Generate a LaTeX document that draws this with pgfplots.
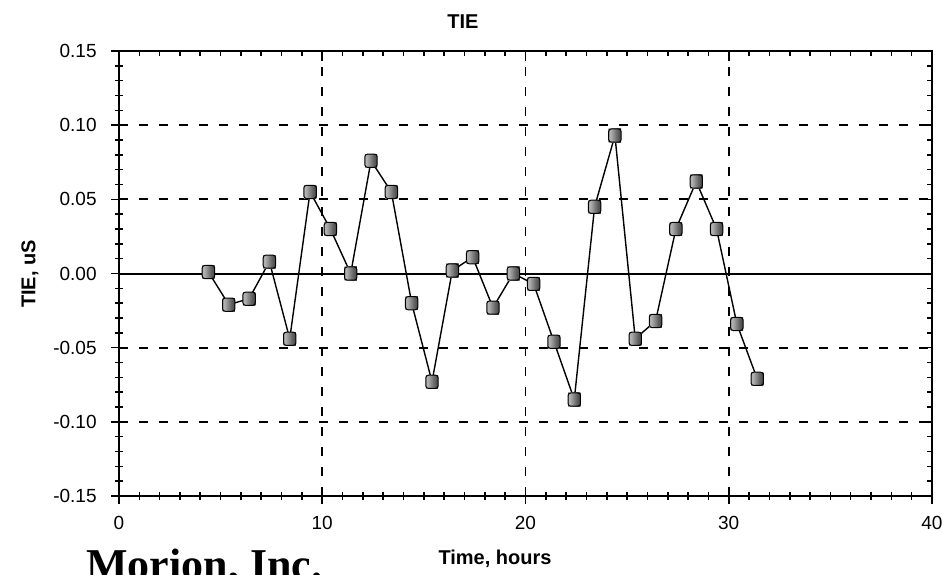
\documentclass[border=0pt]{standalone}
\usepackage{fontspec}
\setmainfont{Liberation Sans}
\newfontfamily\serifbold{Liberation Serif}
\usepackage{pgfplots}
\pgfplotsset{compat=1.18}

% shaded rounded square mark
\pgfdeclarehorizontalshading{tieshade}{100bp}{color(0bp)=(black!80); color(30bp)=(black!28); color(60bp)=(black!62); color(100bp)=(black!92)}
\pgfdeclareplotmark{tiesq}{%
  \pgfsetcornersarced{\pgfpoint{1.3pt}{1.3pt}}%
  \pgfpathrectangle{\pgfpoint{-3.1pt}{-3.3pt}}{\pgfpoint{6.2pt}{6.6pt}}%
  \pgfshadepath{tieshade}{0}%
  \pgfusepath{stroke}%
}

\pgfplotsset{
  tieaxis/.style={
    scale only axis,
    width=406.5pt, height=222.5pt,
    at={(0,0)}, anchor=south west,
    xmin=0, xmax=40, ymin=-0.15, ymax=0.15,
    xtick={0,10,20,30,40},
    ytick={-0.15,-0.10,-0.05,0,0.05,0.10,0.15},
    minor x tick num=9,
    minor y tick num=4,
    axis line style={black, line width=1pt},
    every tick/.style={black, line width=0.8pt},
  }
}

\begin{document}
\begin{tikzpicture}
\path[use as bounding box] (-59.5pt,-39pt) rectangle (411.5pt,248pt);
\clip (-59.5pt,-39pt) rectangle (411.5pt,248pt);

% ticks on top and right (inside)
\begin{axis}[tieaxis,
  xtick pos=right, ytick pos=right,
  tick align=inside,
  major tick length=5pt, minor tick length=2.6pt,
  xticklabels={}, yticklabels={},
]
\end{axis}

\begin{axis}[tieaxis,
  xtick pos=left, ytick pos=left,
  tick align=center,
  major tick length=8pt, minor tick length=3.8pt,
  grid=major,
  major grid style={black, line width=0.9pt, dash pattern=on 4.5pt off 5.5pt},
  /pgf/number format/assume math mode=true,
  tick label style={font=\fontsize{9.5}{11}\selectfont, black},
  xticklabel style={anchor=north, inner sep=0pt},
  yticklabel style={anchor=east, inner sep=0pt,
    /pgf/number format/fixed, /pgf/number format/fixed zerofill,
    /pgf/number format/precision=2},
  xticklabel shift=6pt,
  yticklabel shift=7pt,
]
\addplot[black, line width=1pt] coordinates {(0,0) (40,0)};

\addplot[black, line width=0.7pt, mark=tiesq,
  mark options={solid, draw=black, line width=0.5pt}]
coordinates {
  (4.4,0.001) (5.4,-0.021) (6.4,-0.017) (7.4,0.008) (8.4,-0.044)
  (9.4,0.055) (10.4,0.030) (11.4,0.000) (12.4,0.076) (13.4,0.055)
  (14.4,-0.020) (15.4,-0.073) (16.4,0.002) (17.4,0.011) (18.4,-0.023)
  (19.4,0.000) (20.4,-0.007) (21.4,-0.046) (22.4,-0.085) (23.4,0.045)
  (24.4,0.093) (25.4,-0.044) (26.4,-0.032) (27.4,0.030) (28.4,0.062)
  (29.4,0.030) (30.4,-0.034) (31.4,-0.071)
};
\end{axis}

\node[font=\bfseries\fontsize{10}{12}\selectfont] at (172pt,237pt) {TIE};
\node[font=\bfseries\fontsize{10}{12}\selectfont, rotate=90] at (-44.5pt,111pt) {TIE, uS};
\node[font=\bfseries\fontsize{10}{12}\selectfont, anchor=base] at (188pt,-34pt) {Time, hours};
\node[font=\serifbold\bfseries\fontsize{22}{26}\selectfont, anchor=base west, inner sep=0pt] at (-16.5pt,-41.5pt) {Morion, Inc.};
\end{tikzpicture}
\end{document}
